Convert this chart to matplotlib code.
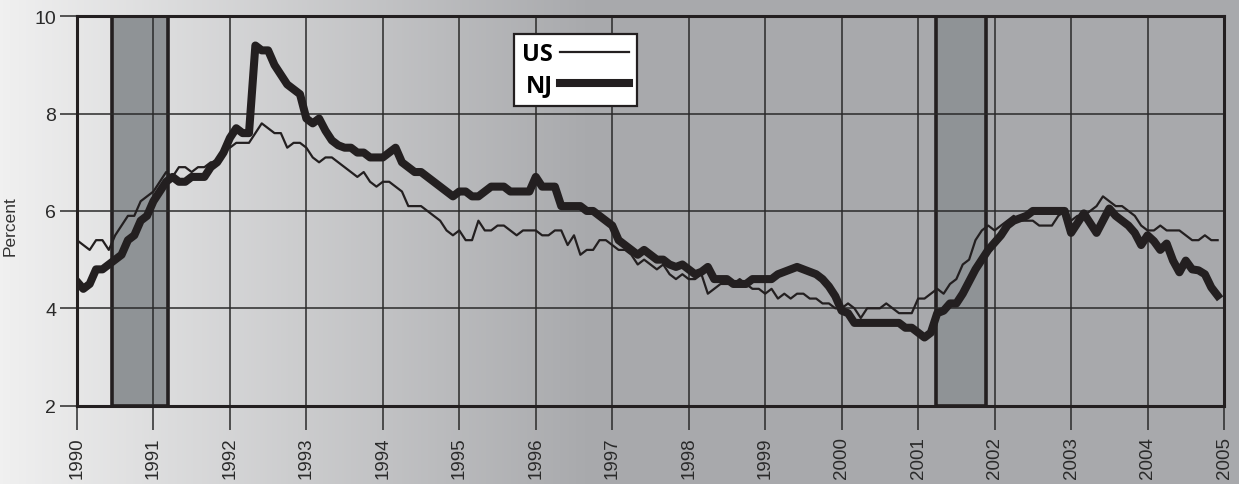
import numpy as np
import matplotlib
matplotlib.use("Agg")
import matplotlib.pyplot as plt
from matplotlib.colors import LinearSegmentedColormap

# monthly unemployment rate, Jan 1990 - Dec 2004
years = list(range(1990, 2006))
months = 1990 + np.arange(180) / 12.0

us = [
    5.4, 5.3, 5.2, 5.4, 5.4, 5.2, 5.5, 5.7, 5.9, 5.9, 6.2, 6.3,   # 1990
    6.4, 6.6, 6.8, 6.7, 6.9, 6.9, 6.8, 6.9, 6.9, 7.0, 7.0, 7.3,   # 1991
    7.3, 7.4, 7.4, 7.4, 7.6, 7.8, 7.7, 7.6, 7.6, 7.3, 7.4, 7.4,   # 1992
    7.3, 7.1, 7.0, 7.1, 7.1, 7.0, 6.9, 6.8, 6.7, 6.8, 6.6, 6.5,   # 1993
    6.6, 6.6, 6.5, 6.4, 6.1, 6.1, 6.1, 6.0, 5.9, 5.8, 5.6, 5.5,   # 1994
    5.6, 5.4, 5.4, 5.8, 5.6, 5.6, 5.7, 5.7, 5.6, 5.5, 5.6, 5.6,   # 1995
    5.6, 5.5, 5.5, 5.6, 5.6, 5.3, 5.5, 5.1, 5.2, 5.2, 5.4, 5.4,   # 1996
    5.3, 5.2, 5.2, 5.1, 4.9, 5.0, 4.9, 4.8, 4.9, 4.7, 4.6, 4.7,   # 1997
    4.6, 4.6, 4.7, 4.3, 4.4, 4.5, 4.5, 4.5, 4.6, 4.5, 4.4, 4.4,   # 1998
    4.3, 4.4, 4.2, 4.3, 4.2, 4.3, 4.3, 4.2, 4.2, 4.1, 4.1, 4.0,   # 1999
    4.0, 4.1, 4.0, 3.8, 4.0, 4.0, 4.0, 4.1, 4.0, 3.9, 3.9, 3.9,   # 2000
    4.2, 4.2, 4.3, 4.4, 4.3, 4.5, 4.6, 4.9, 5.0, 5.4, 5.6, 5.7,   # 2001
    5.6, 5.7, 5.8, 5.9, 5.8, 5.8, 5.8, 5.7, 5.7, 5.7, 5.9, 6.0,   # 2002
    5.8, 5.9, 5.9, 6.0, 6.1, 6.3, 6.2, 6.1, 6.1, 6.0, 5.9, 5.7,   # 2003
    5.6, 5.6, 5.7, 5.6, 5.6, 5.6, 5.5, 5.4, 5.4, 5.5, 5.4, 5.4,   # 2004
]

nj = [
    4.55, 4.4, 4.5, 4.8, 4.8, 4.9, 5.0, 5.1, 5.4, 5.5, 5.8, 5.9,   # 1990
    6.2, 6.4, 6.6, 6.7, 6.6, 6.6, 6.7, 6.7, 6.7, 6.9, 7.0, 7.2,    # 1991
    7.5, 7.7, 7.6, 7.6, 9.4, 9.3, 9.3, 9.0, 8.8, 8.6, 8.5, 8.4,    # 1992
    7.9, 7.8, 7.9, 7.65, 7.45, 7.35, 7.3, 7.3, 7.2, 7.2, 7.1, 7.1, # 1993
    7.1, 7.2, 7.3, 7.0, 6.9, 6.8, 6.8, 6.7, 6.6, 6.5, 6.4, 6.3,    # 1994
    6.4, 6.4, 6.3, 6.3, 6.4, 6.5, 6.5, 6.5, 6.4, 6.4, 6.4, 6.4,    # 1995
    6.7, 6.5, 6.5, 6.5, 6.1, 6.1, 6.1, 6.1, 6.0, 6.0, 5.9, 5.8,    # 1996
    5.7, 5.4, 5.3, 5.2, 5.1, 5.2, 5.1, 5.0, 5.0, 4.9, 4.85, 4.9,   # 1997
    4.8, 4.7, 4.75, 4.85, 4.6, 4.6, 4.6, 4.5, 4.5, 4.5, 4.6, 4.6,  # 1998
    4.6, 4.6, 4.7, 4.75, 4.8, 4.85, 4.8, 4.75, 4.7, 4.6, 4.45, 4.25, # 1999
    3.95, 3.9, 3.7, 3.7, 3.7, 3.7, 3.7, 3.7, 3.7, 3.7, 3.6, 3.6,   # 2000
    3.5, 3.4, 3.5, 3.9, 3.95, 4.1, 4.1, 4.3, 4.55, 4.8, 5.0, 5.2,  # 2001
    5.35, 5.5, 5.7, 5.8, 5.85, 5.9, 6.0, 6.0, 6.0, 6.0, 6.0, 6.0,  # 2002
    5.55, 5.75, 5.95, 5.75, 5.55, 5.8, 6.05, 5.9, 5.8, 5.7, 5.55, 5.3, # 2003
    5.5, 5.38, 5.2, 5.33, 4.98, 4.74, 4.98, 4.8, 4.78, 4.7, 4.43, 4.26, # 2004
]

recessions = [(1990.46, 1991.19), (2001.23, 2001.89)]

ink = "#231f20"

fig = plt.figure(figsize=(12.39, 4.85), dpi=100)

# grey gradient behind everything
bg = fig.add_axes([0, 0, 1, 1], zorder=-10)
grad = np.clip(np.linspace(0, 1, 1239) / 0.48, 0, 1)
cmap = LinearSegmentedColormap.from_list("bg", ["#f0f0f0", "#a8a9ac"])
bg.imshow(grad[np.newaxis, :], aspect="auto", cmap=cmap, extent=[0, 1, 0, 1])
bg.axis("off")

ax = fig.add_axes([0.0621, 0.1616, 0.9258, 0.8027])
ax.set_facecolor("none")

for a, b in recessions:
    ax.axvspan(a, b, facecolor="#8f9396", edgecolor=ink, lw=2.6, zorder=1)

ax.plot(months, nj, color=ink, lw=5.8, label="NJ", zorder=3)
ax.plot(months, us, color=ink, lw=1.6, label="US", zorder=4)

ax.set_xlim(1990, 2005)
ax.set_ylim(2, 10)
ax.set_xticks(years)
ax.set_xticklabels([str(y) for y in years], rotation=90)
ax.set_yticks([2, 4, 6, 8, 10])
ax.grid(True, color="#2a2a2a", lw=1.1)

for s in ax.spines.values():
    s.set_linewidth(2.2)
    s.set_color(ink)

ax.tick_params(axis="x", direction="out", length=17, width=1.1, pad=5,
               labelsize=13.5, colors="#2a2a2a")
ax.tick_params(axis="y", direction="out", length=12, width=1.1, pad=3,
               labelsize=14, colors="#2a2a2a")
for lab in ax.get_xticklabels() + ax.get_yticklabels():
    lab.set_family("Liberation Sans")

ax.set_ylabel("Percent", fontsize=12.5, color="#333333", family="Liberation Sans")
ax.yaxis.set_label_coords(-0.052, 0.464)

h, l = ax.get_legend_handles_labels()
leg = ax.legend(h[::-1], l[::-1], loc="upper left", bbox_to_anchor=(0.381, 0.9545),
                borderaxespad=0, markerfirst=False, handlelength=2.9,
                handletextpad=0.3, labelspacing=0.3, borderpad=0.35,
                fancybox=False, framealpha=1, facecolor="white", edgecolor=ink,
                prop={"family": "Open Sans", "weight": "bold", "size": 17})
leg.get_frame().set_linewidth(1.6)

fig.savefig("out.png", dpi=100)
